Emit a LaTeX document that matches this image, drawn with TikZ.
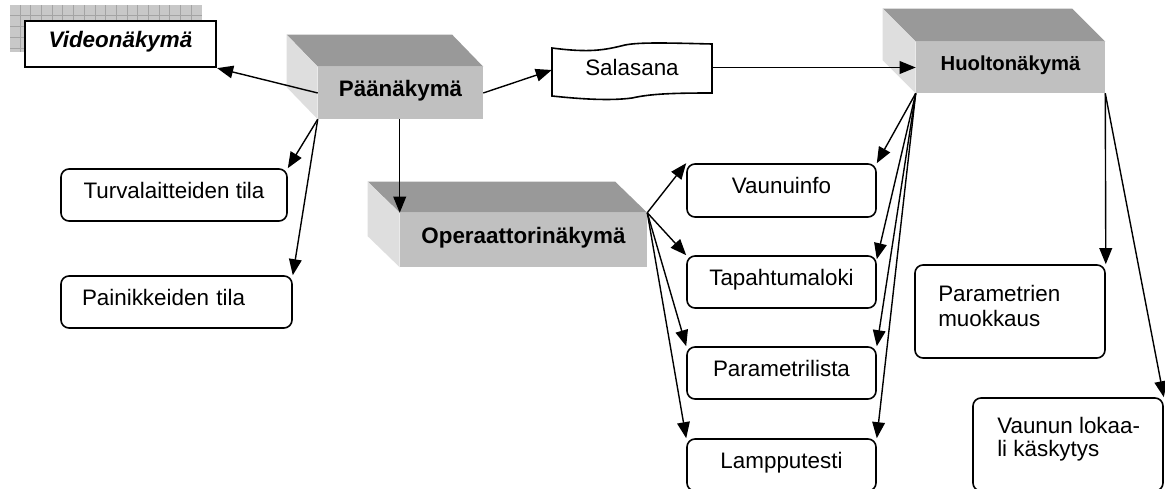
\documentclass[tikz,border=0pt]{standalone}
\usepackage{fontspec}
\setmainfont{Liberation Sans}
\usetikzlibrary{arrows.meta,calc}
\definecolor{topface}{HTML}{999999}
\definecolor{frontface}{HTML}{C0C0C0}
\definecolor{sideface}{HTML}{DEDEDE}
\definecolor{gridfill}{HTML}{C8C8C8}
\definecolor{gridline}{HTML}{A4A4A4}
\begin{document}
\begin{tikzpicture}[x=0.75pt,y=-0.75pt,
  every node/.style={font=\fontsize{16.8}{20}\selectfont},
  conn/.style={line width=1.05pt,-{Triangle[length=12pt,width=9.5pt]}},
  rbox/.style={draw,line width=1.2pt,rounded corners=6pt,inner sep=0pt,text height=0.75em,text depth=0.25em},
  face/.style={fill=frontface,inner sep=0pt,text height=0.75em,text depth=0.25em,font=\fontsize{16.8}{20}\selectfont\bfseries},
  topf/.style={fill=topface},
  sidef/.style={fill=sideface},
  gl/.style={draw=gridline,line width=0.6pt},
  multi/.style={anchor=north west,inner sep=0pt,align=left}
]
\useasboundingbox (0,0) rectangle (1165,489);

% grid pattern behind Videonäkymä
\fill[gridfill] (10,5) rectangle (202,52);
\foreach \i in {0,...,16} \draw[gl] (20+10.7*\i,5) -- (20+10.7*\i,52);
\foreach \j in {15,26,37,48} \draw[gl] (10,\j) -- (202,\j);

% Videonäkymä
\node[draw,line width=1.7pt,fill=white,minimum width=143.25pt,minimum height=34.5pt,inner sep=0pt,text height=0.75em,text depth=0.2em,font=\fontsize{16.8}{20}\selectfont\bfseries\itshape] (video) at (120.5,44) {Videonäkymä};

% Päänäkymä
\node[face,minimum width=123.75pt,minimum height=39pt] (paa) at (400.5,93) {Päänäkymä};
\fill[topf] (paa.north west) -- ++(-31,-32) -- ($(paa.north east)+(-31,-32)$) -- (paa.north east) -- cycle;
\fill[sidef] (paa.north west) -- ++(-31,-32) -- ($(paa.south west)+(-31,-32)$) -- (paa.south west) -- cycle;

% Operaattorinäkymä
\node[face,minimum width=185.25pt,minimum height=40.5pt] (oper) at (523.5,240) {Operaattorinäkymä};
\fill[topf] (oper.north west) -- ++(-32,-31) -- ($(oper.north east)+(-32,-31)$) -- (oper.north east) -- cycle;
\fill[sidef] (oper.north west) -- ++(-32,-31) -- ($(oper.south west)+(-32,-31)$) -- (oper.south west) -- cycle;

% Huoltonäkymä
\node[face,minimum width=141.75pt,minimum height=38.25pt,font=\fontsize{15.2}{18}\selectfont\bfseries] (huolto) at (1010.5,67.5) {Huoltonäkymä};
\fill[topf] (huolto.north west) -- ++(-33,-33) -- ($(huolto.north east)+(-33,-33)$) -- (huolto.north east) -- cycle;
\fill[sidef] (huolto.north west) -- ++(-33,-33) -- ($(huolto.south west)+(-33,-33)$) -- (huolto.south west) -- cycle;

% Salasana (tape shape)
\draw[line width=1.2pt] (552,48) .. controls (590,53) and (605,50) .. (625,45)
  .. controls (640,42) and (670,43) .. (712,44) -- (712,93)
  .. controls (670,93) and (650,94) .. (632,98)
  .. controls (610,101) and (580,99) .. (552,96) -- cycle;
\node[inner sep=0pt,minimum width=120pt,minimum height=37.5pt,text height=0.9em,text depth=0.1em] (sal) at (632,70) {Salasana};

% left boxes
\node[rbox,minimum width=169.5pt,minimum height=39pt] (turva) at (174,195) {Turvalaitteiden tila};
\node[rbox,text width=141.75pt,align=left,inner xsep=15.75pt,minimum height=39pt] (paini) at (176.5,302) {Painikkeiden tila};

% middle boxes
\node[rbox,minimum width=141.75pt,minimum height=39.75pt] (vaunu) at (781.5,190.5) {Vaunuinfo};
\node[rbox,minimum width=141.75pt,minimum height=39pt] (tapah) at (781.5,282) {Tapahtumaloki};
\node[rbox,minimum width=141.75pt,minimum height=39pt] (param) at (781.5,373) {Parametrilista};
\node[rbox,minimum width=141.75pt,minimum height=39pt] (lamp) at (781.5,465) {Lampputesti};

% right boxes
\node[rbox,minimum width=142.5pt,minimum height=69.75pt] (muok) at (1010,311.5) {};
\node[multi,font=\fontsize{16.8}{18.75}\selectfont] (muokt) at (938,285) {Parametrien\\muokkaus};
\node[rbox,minimum width=142.5pt,minimum height=69.75pt] (lok) at (1068,444.5) {};
\node[multi,font=\fontsize{16.8}{16.9}\selectfont] (lokt) at (997,417) {Vaunun lokaa-\\li käskytys};

% connectors
\draw[conn] (paa.west) -- (video.south east);
\draw[conn] (paa.east) -- (sal.west);
\draw[conn] (sal.east |- huolto.west) -- (huolto.west);
\draw[conn] (paa.south west) -- (turva.north east);
\draw[conn] (paa.south west) -- (paini.north east);
\draw[conn] (paa.south west -| oper.north west) -- (oper.north west);
\draw[conn] (oper.north east) -- (vaunu.north west);
\draw[conn] (oper.north east) -- (tapah.north west);
\draw[conn] (oper.north east) -- (param.north west);
\draw[conn] (oper.north east) -- (lamp.north west);
\draw[conn] (huolto.south west) -- (vaunu.north east);
\draw[conn] (huolto.south west) -- ($(tapah.north east)+(0,4)$);
\draw[conn] (huolto.south west) -- (param.north east);
\draw[conn] (huolto.south west) -- (lamp.north east);
\draw[conn] (huolto.south east) -- (muok.north east);
\draw[conn] (huolto.south east) -- (lok.north east);
\end{tikzpicture}
\end{document}
